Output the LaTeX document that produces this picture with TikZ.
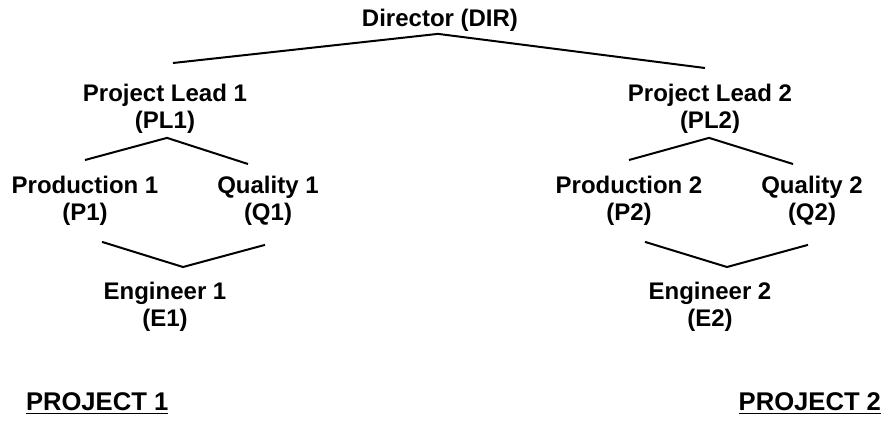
\documentclass[tikz,border=0pt]{standalone}
\usepackage{fontspec}
\setmainfont{Liberation Sans}
\usepackage{tikz}
\usetikzlibrary{calc}

\begin{document}
\begin{tikzpicture}[x=0.5pt,y=-0.5pt,line width=1pt,every node/.style={anchor=north,inner sep=0pt,align=center,font=\fontsize{12}{13.5}\selectfont\bfseries}]
				\useasboundingbox (0,0) rectangle (885,420);
				\node (dir) at (440,8.5) {Director (DIR)};
				\node (pl1) at (165,83.5) {Project Lead 1\\(PL1)};
				\node (pl2) at (710,83.5) {Project Lead 2\\(PL2)};
				\node (p1) at (85,175.5) {Production 1\\(P1)};
				\node (q1) at (268,175.5) {Quality 1\\(Q1)};
				\node (p2) at (629,175.5) {Production 2\\(P2)};
				\node (q2) at (812,175.5) {Quality 2\\(Q2)};
				\node (e1) at (165,281.5) {Engineer 1\\(E1)};
				\node (e2) at (710,281.5) {Engineer 2\\(E2)};
				\node (prj1) [anchor=base west] at (25,410) {\fontsize{12.8}{14}\selectfont\underline{PROJECT 1}};
				\node (prj2) [anchor=base east] at (882,410) {\fontsize{12.8}{14}\selectfont\underline{PROJECT 2}};
				\draw ([shift={(8,-20.5)}]pl1.north) -- ([shift={(-2,1)}]dir.south) -- ([shift={(-5,-15.5)}]pl2.north);
				\draw ([shift={(0,-15.5)}]p1.north) -- ([shift={(2,3)}]pl1.south) -- ([shift={(-20,-11.5)}]q1.north);
				\draw ([shift={(0,-15.5)}]p2.north) -- ([shift={(-1,3)}]pl2.south) -- ([shift={(-19,-11.5)}]q2.north);
				\draw ([shift={(17,15)}]p1.south) -- ([shift={(18,-14.5)}]e1.north) -- ([shift={(-3,18)}]q1.south);
				\draw ([shift={(16,15)}]p2.south) -- ([shift={(17,-14.5)}]e2.north) -- ([shift={(-4,18)}]q2.south);
			\end{tikzpicture}
\end{document}
